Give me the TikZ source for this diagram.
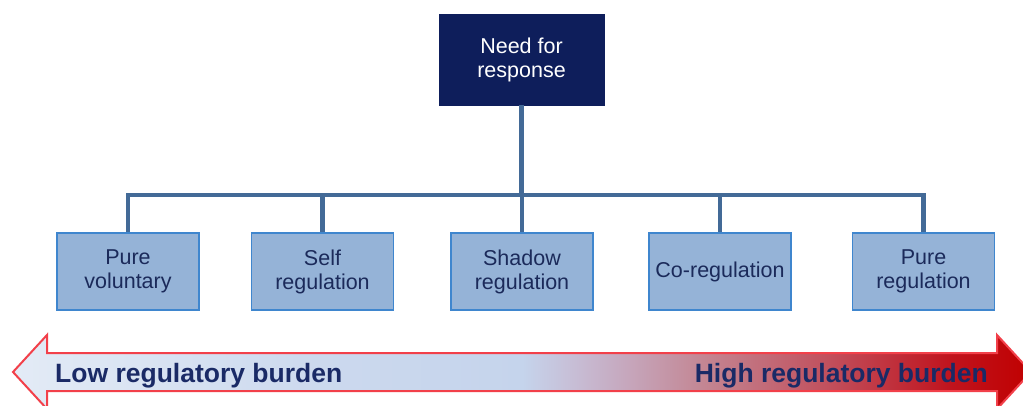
\documentclass[tikz,border=0pt]{standalone}
\usepackage{fontspec}
\newfontfamily\arialf{Liberation Sans}
\definecolor{navybox}{HTML}{0E1E5B}
\definecolor{connc}{HTML}{436A97}
\definecolor{boxfill}{HTML}{95B3D7}
\definecolor{boxline}{HTML}{3F86CE}
\definecolor{boxtext}{HTML}{1B2A5A}
\definecolor{arrtext}{HTML}{1A2A66}
\definecolor{arrline}{HTML}{F2404A}
\definecolor{g0}{HTML}{E3EBF6}
\definecolor{g1}{HTML}{CCD9EE}
\definecolor{g2}{HTML}{C5D4EC}
\definecolor{g3}{HTML}{C7BED6}
\definecolor{g4}{HTML}{C6A8BE}
\definecolor{g5}{HTML}{C38592}
\definecolor{g6}{HTML}{C1505D}
\definecolor{g7}{HTML}{C0141E}
\definecolor{g8}{HTML}{C00000}
\pgfdeclarehorizontalshading{burden}{100bp}{color(0bp)=(g0); color(25bp)=(g0); color(40bp)=(g1); color(50bp)=(g2); color(52.5bp)=(g3); color(55bp)=(g4); color(59bp)=(g5); color(65bp)=(g6); color(71bp)=(g7); color(75bp)=(g8); color(100bp)=(g8)}
\tikzset{
  topbox/.style={fill=navybox, draw=navybox, minimum width=165pt, minimum height=91pt, inner sep=0pt,
    text=white, align=center, font=\arialf\fontsize{21.5}{24}\selectfont},
  optbox/.style={fill=boxfill, draw=boxline, line width=1.3pt, minimum width=142pt, minimum height=77pt, inner sep=0pt,
    text=boxtext, align=center, font=\arialf\fontsize{21.5}{24}\selectfont},
  conn/.style={draw=connc, line width=4.8pt},
  arrlabel/.style={text=arrtext, inner sep=0pt, font=\arialf\bfseries\fontsize{26.5}{30}\selectfont}
}
\begin{document}
\begin{tikzpicture}[x=1pt,y=-1pt]
\useasboundingbox (0,0) rectangle (1023,406);
\clip (0,0) rectangle (1023,406);
% boxes
\node[topbox] (top) at (521.5,59.5) {Need for\\response};
\node[optbox] (b1) at (128,271.5) {Pure\\voluntary};
\node[optbox] (b2) at (322.5,271.5) {Self\\regulation};
\node[optbox] (b3) at (522,271.5) {Shadow\\regulation};
\node[optbox] (b4) at (720,271.5) {Co-regulation};
\node[optbox] (b5) at (923.5,271.5) {Pure\\regulation};
\coordinate (bus) at (521,195);
% connectors
\draw[conn] (b1.north) -- (b1.north |- bus) -- (b5.north |- bus) -- (b5.north);
\draw[conn] (top.south) -- (top.south |- bus);
\draw[conn] (b2.north |- bus) -- (b2.north);
\draw[conn] (b3.north |- bus) -- (b3.north);
\draw[conn] (b4.north |- bus) -- (b4.north);
% double arrow
\coordinate (lt) at (13,372);
\coordinate (rt) at (1031,372);
\path[shading=burden, draw=arrline, line width=2pt, line join=miter]
  (lt) -- (47,335) -- (47,353) -- (997,353) -- (997,335) -- (rt) -- (997,409) -- (997,391) -- (47,391) -- (47,409) -- cycle;
\node[arrlabel, anchor=base west] (low) at (55,382) {Low regulatory burden};
\node[arrlabel, anchor=base east] (high) at (988,382) {High regulatory burden};
\end{tikzpicture}
\end{document}
